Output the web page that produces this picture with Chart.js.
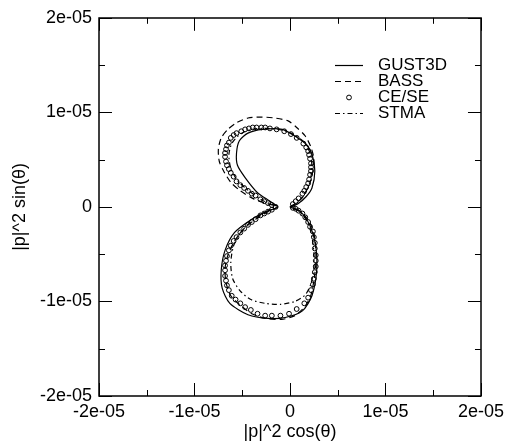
<!DOCTYPE html>
<html>
<head>
<meta charset="utf-8">
<script src="https://cdn.jsdelivr.net/npm/chart.js"></script>
<style>
  html, body { margin: 0; padding: 0; background: #fff; }
</style>
</head>
<body>
<canvas id="chart" width="509" height="444"></canvas>
<script>
// values are stored in units of 1e-6
const UNIT = 1e-6;

const majorTicks = [-2e-5, -1e-5, 0, 1e-5, 2e-5];
const minorTicks = [-1.5e-5, -0.5e-5, 0.5e-5, 1.5e-5];
const seriesNames = ["GUST3D", "BASS", "CE/SE", "STMA"];

const gustX = [0, 0.8, 1.7, 2.3, 2.6, 2.3, 1.7, 0.8, -0.8, -2.9, -4.4, -5.3, -5.6, -5.5, -4.7, -3.4, -2.1, -1.3,
  -2.5, -4.0, -5.8, -6.8, -7.2, -7.1, -6.3, -4.4, -2.3, -0.5, 1.3, 2.3, 2.8, 2.7, 2.1, 1.1, 0];
const gustY = [0, 0.3, 1.1, 2.0, 3.8, 5.6, 6.6, 7.3, 8.2, 8.2, 7.8, 7.0, 5.7, 4.4, 3.1, 1.5, 0.6, 0,
  -0.5, -1.3, -2.7, -4.6, -6.7, -8.6, -10.2, -11.4, -11.8, -11.7, -11.0, -9.4, -6.7, -4.1, -2.0, -0.5, 0];

const bassX = [0, 0.5, 1.2, 1.7, 2.1, 2.4, 2.5, 2.2, 1.6, 0.7, -0.2, -1.6, -2.9, -4.4, -5.6, -6.5, -7.2, -7.5, -7.4,
  -6.9, -6.2, -5.2, -3.9, -2.6, -1.3,
  -2.3, -3.6, -4.8, -5.8, -6.5, -6.8, -6.7, -6.2, -5.2, -4.0, -2.5, -0.9, 0.5, 1.6, 2.2, 2.5, 2.7, 2.7, 2.5, 2.0, 1.0, 0];
const bassY = [0, 0.3, 0.9, 1.7, 2.6, 3.8, 5.1, 6.3, 7.5, 8.4, 9.1, 9.4, 9.5, 9.4, 8.9, 8.2, 7.3, 6.1, 4.8,
  3.7, 2.6, 1.7, 0.9, 0.4, 0,
  -0.5, -1.3, -2.3, -3.6, -5.1, -6.5, -8.0, -9.4, -10.4, -11.3, -11.8, -11.9, -11.5, -10.5, -9.3, -7.8, -6.1, -4.4, -2.8, -1.5, -0.4, 0];

const ceseX = [0.3, 0.6, 0.9, 1.3, 1.5, 1.7, 1.9, 2.0, 2.1, 2.2, 2.2, 2.2, 2.1, 2.0, 1.9, 1.7, 1.4, 0.7, 0.1, -0.6,
  -1.4, -2.1, -2.6, -3.0, -3.5, -3.9, -4.3, -4.7, -5.1, -5.6, -5.9, -6.2, -6.4, -6.6, -6.7, -6.8, -6.8, -6.7, -6.6,
  -6.4, -6.2, -5.9, -5.6, -5.2, -4.8, -4.4, -4.0, -3.6, -3.1, -2.7, -2.3, -1.9, -1.5,
  -1.9, -2.3, -2.7, -3.1, -3.6, -4.0, -4.4, -4.8, -5.2, -5.6, -5.9, -6.2, -6.4, -6.6, -6.7, -6.8, -6.8, -6.8, -6.7,
  -6.6, -6.4, -6.1, -5.7, -5.2, -4.7, -4.1, -3.4, -2.6, -1.9, -1.0, -0.1, 0.7, 1.5, 1.9, 2.2, 2.4, 2.5, 2.6, 2.7,
  2.7, 2.7, 2.6, 2.6, 2.5, 2.4, 2.1, 1.9, 1.6, 1.3, 0.9, 0.6, 0.3];
const ceseY = [0.3, 0.6, 0.9, 1.4, 1.7, 2.1, 2.5, 2.9, 3.4, 3.8, 4.2, 4.6, 5.1, 5.5, 5.9, 6.3, 6.7, 7.3, 7.7, 8.0,
  8.2, 8.3, 8.4, 8.4, 8.4, 8.4, 8.3, 8.2, 8.0, 7.8, 7.6, 7.3, 6.8, 6.5, 6.1, 5.7, 5.3, 4.8, 4.4,
  4.0, 3.6, 3.2, 2.7, 2.3, 2.0, 1.7, 1.4, 1.2, 0.8, 0.6, 0.4, 0.2, 0.0,
  -0.3, -0.5, -0.7, -0.9, -1.3, -1.6, -1.9, -2.3, -2.7, -3.2, -3.6, -4.1, -4.6, -5.2, -5.7, -6.2, -6.7, -7.3, -7.8,
  -8.3, -8.8, -9.4, -9.8, -10.2, -10.6, -10.9, -11.3, -11.5, -11.5, -11.5, -11.3, -10.8, -10.2, -9.6, -8.8, -8.2, -7.6, -6.9, -6.3,
  -5.7, -5.1, -4.4, -3.8, -3.2, -2.6, -2.1, -1.6, -1.1, -0.7, -0.4, -0.2, -0.1];

const stmaX = [0, 0.7, 1.6, 2.1, 2.3, 2.1, 1.5, 0.5, -0.7, -2.3, -4.0, -5.2, -6.1, -6.4, -6.2, -5.5, -4.2, -2.7, -1.3,
  -2.5, -4.0, -5.1, -5.9, -6.2, -6.0, -5.2, -4.1, -2.6, -1.0, 0.5, 1.6, 2.2, 2.5, 2.5, 2.3, 1.9, 1.0, 0];
const stmaY = [0, 0.4, 1.4, 2.7, 4.2, 5.7, 6.8, 7.6, 8.1, 8.3, 8.2, 7.7, 6.7, 5.5, 4.1, 2.8, 1.6, 0.6, 0,
  -0.5, -1.5, -2.6, -4.1, -5.9, -7.6, -8.9, -9.8, -10.2, -10.3, -10.0, -9.3, -8.1, -6.5, -4.8, -3.2, -1.7, -0.5, 0];

const FONT = "'Liberation Sans', Arial, sans-serif";

function toPoints(xs, ys) {
  return xs.map((v, i) => ({ x: v * UNIT, y: ys[i] * UNIT }));
}

function fmtTick(v) {
  if (Math.abs(v) < 1e-12) return "0";
  const [m, e] = v.toExponential(0).split("e");
  const n = parseInt(e, 10);
  return m + "e" + (n < 0 ? "-" : "+") + String(Math.abs(n)).padStart(2, "0");
}

const lineStyle = { showLine: true, pointRadius: 0, borderColor: "#000", borderWidth: 1.2, tension: 0.25, fill: false };

// frame with inward ticks on all four sides, plus the legend box in the upper right
const frame = {
  id: "frame",
  afterDraw(chart) {
    const { ctx, chartArea: a, scales: { x, y } } = chart;
    ctx.save();
    ctx.strokeStyle = "#000";
    ctx.lineWidth = 1.5;
    ctx.strokeRect(Math.round(a.left), Math.round(a.top), Math.round(a.right - a.left), Math.round(a.bottom - a.top));
    ctx.lineWidth = 1;
    const mark = (vals, len) => vals.forEach(v => {
      const px = Math.round(x.getPixelForValue(v)) + 0.5;
      const py = Math.round(y.getPixelForValue(v)) + 0.5;
      ctx.beginPath();
      ctx.moveTo(px, a.bottom); ctx.lineTo(px, a.bottom - len);
      ctx.moveTo(px, a.top); ctx.lineTo(px, a.top + len);
      ctx.moveTo(a.left, py); ctx.lineTo(a.left + len, py);
      ctx.moveTo(a.right, py); ctx.lineTo(a.right - len, py);
      ctx.stroke();
    });
    mark(majorTicks, 13);
    mark(minorTicks, 6);

    // legend
    const rowY = [65, 81, 97, 113];
    const x0 = 335, x1 = 363, tx = 378;
    ctx.font = "17px " + FONT;
    ctx.fillStyle = "#000";
    ctx.textBaseline = "middle";
    ctx.textAlign = "left";
    const dashes = [[], [6, 4], null, [5, 3, 1.5, 3]];
    seriesNames.forEach((name, i) => {
      const yy = rowY[i] + 0.5;
      ctx.lineWidth = 1.2;
      if (dashes[i]) {
        ctx.setLineDash(dashes[i]);
        ctx.beginPath(); ctx.moveTo(x0, yy); ctx.lineTo(x1, yy); ctx.stroke();
        ctx.setLineDash([]);
      } else {
        ctx.lineWidth = 1;
        ctx.beginPath(); ctx.arc((x0 + x1) / 2, yy, 2.4, 0, Math.PI * 2); ctx.stroke();
      }
      ctx.fillText(name, tx, rowY[i]);
    });
    ctx.restore();
  }
};

new Chart(document.getElementById("chart"), {
  type: "scatter",
  data: {
    datasets: [
      { label: seriesNames[0], data: toPoints(gustX, gustY), ...lineStyle },
      { label: seriesNames[1], data: toPoints(bassX, bassY), ...lineStyle, borderDash: [6, 4] },
      { label: seriesNames[2], data: toPoints(ceseX, ceseY), showLine: false, pointRadius: 2.4,
        pointBorderWidth: 1, pointBorderColor: "#000", pointBackgroundColor: "rgba(0,0,0,0)" },
      { label: seriesNames[3], data: toPoints(stmaX, stmaY), ...lineStyle, borderDash: [5, 3, 1.5, 3] }
    ]
  },
  options: {
    responsive: false,
    animation: false,
    devicePixelRatio: 1,
    layout: { padding: { top: 16, right: 28, left: 0, bottom: 0 } },
    plugins: { legend: { display: false }, tooltip: { enabled: false } },
    scales: {
      x: {
        type: "linear", min: -2e-5, max: 2e-5,
        afterBuildTicks: s => { s.ticks = majorTicks.map(v => ({ value: v })); },
        afterFit: s => { s.height = 48; },
        grid: { display: false, drawTicks: false },
        border: { display: false },
        ticks: { callback: fmtTick, color: "#000", font: { family: FONT, size: 18 }, padding: 5, maxRotation: 0, autoSkip: false },
        title: { display: true, text: "|p|^2 cos(θ)", color: "#000", font: { family: FONT, size: 18 }, padding: { top: 0, bottom: 1 } }
      },
      y: {
        type: "linear", min: -2e-5, max: 2e-5,
        afterBuildTicks: s => { s.ticks = majorTicks.map(v => ({ value: v })); },
        afterFit: s => { s.width = 99; },
        grid: { display: false, drawTicks: false },
        border: { display: false },
        ticks: { callback: fmtTick, color: "#000", font: { family: FONT, size: 18 }, padding: 7, autoSkip: false },
        title: { display: true, text: "|p|^2 sin(θ)", color: "#000", font: { family: FONT, size: 18 }, padding: { top: 9, bottom: 0 } }
      }
    }
  },
  plugins: [frame]
});
</script>
</body>
</html>
